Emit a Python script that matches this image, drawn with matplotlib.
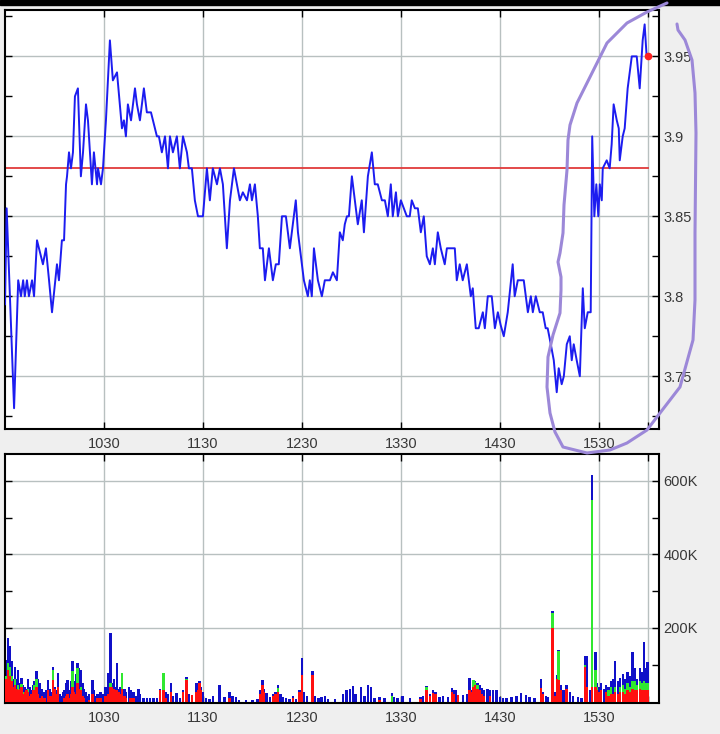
import matplotlib
matplotlib.use("Agg")
import matplotlib.pyplot as plt
from matplotlib.patches import Rectangle
from matplotlib.lines import Line2D
from matplotlib.ticker import FixedLocator, FuncFormatter

plt.rcParams['font.family'] = ['Liberation Sans', 'DejaVu Sans']

# price, minutes after 09:30
price_min = [0, 1, 5.5, 8, 9.7, 11, 12, 13.3, 14.5, 16.4,
             17.6, 19.4, 23, 24.8, 26.7, 28.5, 31.5, 32.7, 34.5, 35.8,
             37, 37.6, 38.8, 40, 41.2, 42.4, 44.2, 46, 47.3, 49.1,
             50.3, 52.7, 53.9, 55.8, 56.4, 58.2, 59.4, 61.2, 63.6, 65.4,
             67.9, 70.9, 72.1, 73.3, 74.5, 76.4, 78.8, 80, 81.8, 84.2,
             86, 88.5, 89.7, 92.1, 93.3, 95.1, 97, 98.8, 100, 101.8,
             104.2, 106, 107.9, 110.3, 111.5, 113.3, 115.1, 117, 120, 122.4,
             124.2, 126, 128.5, 130.3, 132.1, 134.5, 136.4, 138.8, 140.6, 142.4,
             144.2, 146.7, 148.5, 149.7, 151.5, 153.3, 154.5, 156.3, 157.6, 160,
             162.4, 164.2, 166, 167.9, 170.3, 172.7, 176.3, 177.6, 180, 181.2,
             183.6, 184.8, 186, 187.3, 189.7, 192.1, 193.9, 197, 198.8, 201.2,
             203, 204.8, 206, 207.3, 208.5, 210.3, 212.1, 213.9, 216.3, 217.6,
             220, 222.4, 224.2, 226, 228.5, 230.3, 232.1, 233.9, 235.1, 237,
             238.2, 240, 241.8, 243.6, 245.4, 246.6, 248.5, 250.3, 252.1, 253.9,
             255.7, 257.6, 259.4, 260.6, 262.4, 264.2, 266.6, 267.9, 272.7, 273.9,
             275.7, 277.5, 280, 282.4, 283.6, 285.4, 287.2, 289.7, 290.9, 292.7,
             295.1, 297, 298.8, 300.5, 302.4, 304.8, 307.8, 309, 310.9, 312.7,
             314.5, 317, 318.8, 320, 321.8, 324.2, 326, 327.8, 329, 330.9,
             332.7, 334.5, 335.7, 337.5, 338.8, 340.6, 342.4, 343.6, 344.8, 346.6,
             348.5, 350.3, 351.5, 353.3, 355.1, 356, 357.3, 358.5, 359.7, 360.6,
             361.8, 362.4, 364.8, 366.6, 367.8, 369, 370.9, 372.1, 372.7, 374.5,
             375.7, 377.5, 380, 383, 384.8, 386.6, 387.8, 389]
price = [3.795, 3.855, 3.73, 3.81, 3.80, 3.81, 3.80, 3.81, 3.80, 3.81,
         3.80, 3.835, 3.82, 3.83, 3.81, 3.79, 3.82, 3.81, 3.835, 3.835,
         3.87, 3.875, 3.89, 3.88, 3.89, 3.925, 3.93, 3.875, 3.89, 3.92,
         3.91, 3.87, 3.89, 3.87, 3.88, 3.87, 3.88, 3.91, 3.96, 3.935,
         3.94, 3.905, 3.91, 3.90, 3.92, 3.91, 3.93, 3.92, 3.91, 3.93,
         3.915, 3.915, 3.91, 3.90, 3.90, 3.89, 3.90, 3.88, 3.90, 3.89,
         3.90, 3.88, 3.90, 3.89, 3.88, 3.88, 3.86, 3.85, 3.85, 3.88,
         3.86, 3.88, 3.87, 3.88, 3.87, 3.83, 3.86, 3.88, 3.87, 3.86,
         3.865, 3.86, 3.87, 3.86, 3.87, 3.85, 3.83, 3.83, 3.81, 3.83,
         3.81, 3.82, 3.82, 3.85, 3.85, 3.83, 3.86, 3.84, 3.82, 3.81,
         3.80, 3.81, 3.80, 3.83, 3.81, 3.80, 3.81, 3.81, 3.815, 3.81,
         3.84, 3.835, 3.845, 3.85, 3.85, 3.875, 3.86, 3.845, 3.86, 3.84,
         3.875, 3.89, 3.87, 3.87, 3.86, 3.86, 3.85, 3.87, 3.85, 3.865,
         3.85, 3.86, 3.855, 3.85, 3.85, 3.86, 3.855, 3.855, 3.84, 3.85,
         3.825, 3.82, 3.83, 3.82, 3.84, 3.83, 3.82, 3.83, 3.83, 3.81,
         3.82, 3.81, 3.82, 3.80, 3.805, 3.78, 3.78, 3.79, 3.78, 3.80,
         3.80, 3.78, 3.79, 3.782, 3.775, 3.79, 3.82, 3.80, 3.81, 3.81,
         3.81, 3.79, 3.80, 3.79, 3.80, 3.79, 3.79, 3.78, 3.78, 3.77,
         3.76, 3.74, 3.755, 3.745, 3.75, 3.77, 3.775, 3.76, 3.77, 3.76,
         3.75, 3.805, 3.78, 3.79, 3.79, 3.90, 3.85, 3.87, 3.85, 3.87,
         3.86, 3.88, 3.885, 3.88, 3.895, 3.92, 3.91, 3.905, 3.885, 3.90,
         3.905, 3.93, 3.95, 3.95, 3.93, 3.96, 3.97, 3.95]
last_min, last_price = 390, 3.95
ref_price = 3.88

# volume (thousands): total, up to green, red part
vol_min = [1, 2, 3, 4, 5, 6, 7, 8, 9, 10,
           11, 12, 13, 14, 15, 16, 17, 18, 19, 20,
           21, 22.5, 24, 25, 26, 27, 28, 29, 30, 31,
           32, 33, 34, 35, 36, 37, 38, 39, 40, 41,
           42, 43, 44, 45, 46, 47, 48, 49, 50, 51,
           53, 54, 55, 56, 57, 58, 59, 60, 61, 62.5,
           64, 65, 66, 67, 68, 69, 70, 71, 72.5, 73.5,
           75, 76, 77, 78, 79.5, 81, 82, 84, 86, 88,
           90, 92, 94, 96, 97.5, 99, 100.5, 102, 104, 106,
           108, 110, 111.5, 113.5, 116, 117, 118, 119, 120, 122,
           124, 126, 130, 133, 136, 138, 140, 142, 146, 150,
           153, 154.5, 156, 157, 158.5, 160.5, 162.5, 164, 165.5, 167,
           168.5, 170.5, 172.5, 174.5, 176.5, 178.5, 180, 181, 183, 186.5,
           188, 190, 192, 194, 196, 200, 205, 207, 209, 211,
           212.5, 216, 218, 220, 222, 224, 227, 230, 234.5, 236,
           238, 241, 245.5, 252, 253.5, 255.5, 257.5, 259.5, 261, 263.5,
           265.5, 268.5, 271, 272, 273.5, 274.5, 277.5, 280, 281.5, 283,
           284, 285, 286.5, 288, 289, 290.5, 292.5, 294, 296, 298,
           300, 302, 304, 307, 310, 313, 316, 318, 321, 325,
           326, 328, 329, 332, 333.5, 334.5, 335.5, 337, 338.5, 340.5,
           342.5, 344.5, 347.5, 349.5, 351.5, 353, 355, 356, 358, 359,
           360.5, 361.5, 363, 364.5, 366, 367.5, 369, 370, 371.5, 373,
           374.5, 376, 377.5, 379, 380.5, 382, 383, 385, 386, 387.5,
           388.5, 389.5]
vol_total = [113, 172, 150, 110, 60, 95, 60, 85, 50, 63,
             45, 40, 35, 60, 40, 30, 45, 55, 82, 60,
             50, 35, 25, 30, 59, 35, 25, 95, 40, 30,
             77, 20, 15, 25, 30, 50, 59, 30, 55, 109,
             55, 75, 106, 90, 86, 50, 35, 25, 15, 20,
             59, 30, 15, 20, 15, 25, 20, 15, 40, 77,
             186, 50, 60, 40, 104, 35, 40, 77, 35, 25,
             40, 30, 20, 25, 15, 35, 20, 10, 10, 10,
             10, 10, 35, 77, 25, 20, 50, 15, 22, 10,
             30, 68, 20, 18, 50, 35, 55, 40, 25, 10,
             8, 15, 45, 12, 27, 15, 12, 5, 5, 5,
             8, 30, 59, 35, 22, 12, 20, 25, 45, 20,
             12, 10, 8, 15, 8, 30, 118, 25, 15, 82,
             15, 10, 12, 15, 8, 8, 20, 30, 35, 43,
             20, 39, 15, 45, 40, 10, 12, 10, 22, 12,
             10, 15, 10, 12, 15, 43, 20, 32, 27, 12,
             14, 12, 36, 30, 32, 18, 18, 20, 63, 30,
             58, 55, 50, 45, 38, 30, 35, 30, 30, 32,
             12, 10, 10, 12, 15, 22, 18, 12, 10, 61,
             25, 15, 12, 245, 25, 72, 140, 45, 30, 45,
             25, 15, 12, 10, 124, 125, 30, 616, 135, 50,
             40, 50, 35, 45, 40, 55, 60, 109, 55, 65,
             75, 60, 80, 70, 136, 90, 60, 90, 80, 162,
             90, 108]
vol_green = [70, 104, 95, 70, 0, 60, 0, 45, 0, 48,
             25, 0, 0, 35, 0, 0, 0, 45, 60, 0,
             0, 0, 0, 0, 0, 0, 0, 86, 0, 0,
             0, 0, 0, 0, 0, 0, 0, 0, 0, 82,
             0, 0, 90, 0, 40, 0, 0, 0, 0, 0,
             0, 0, 0, 0, 0, 0, 0, 0, 0, 0,
             50, 0, 0, 0, 0, 0, 0, 77, 0, 0,
             0, 0, 0, 0, 0, 0, 0, 0, 0, 0,
             0, 0, 0, 77, 0, 0, 0, 0, 0, 0,
             0, 60, 0, 0, 0, 0, 0, 0, 0, 0,
             0, 0, 0, 0, 0, 0, 0, 0, 0, 0,
             0, 0, 0, 0, 0, 0, 0, 0, 37, 0,
             0, 0, 0, 0, 0, 0, 0, 0, 0, 0,
             0, 0, 0, 0, 0, 0, 0, 0, 0, 0,
             0, 0, 0, 0, 0, 0, 0, 0, 15, 0,
             0, 0, 0, 0, 0, 40, 0, 0, 0, 0,
             0, 0, 0, 0, 0, 0, 0, 0, 0, 0,
             58, 52, 45, 0, 0, 0, 0, 0, 0, 0,
             0, 0, 0, 0, 0, 0, 0, 0, 0, 0,
             0, 0, 0, 241, 0, 0, 137, 0, 0, 0,
             0, 0, 0, 0, 100, 0, 0, 548, 86, 40,
             0, 0, 0, 0, 30, 40, 0, 40, 0, 40,
             45, 35, 50, 40, 55, 55, 45, 55, 50, 55,
             50, 50]
vol_red = [60, 86, 70, 55, 40, 45, 35, 30, 35, 40,
           20, 25, 30, 25, 15, 20, 30, 30, 40, 20,
           10, 15, 10, 0, 30, 15, 15, 59, 35, 20,
           40, 0, 0, 0, 10, 15, 20, 10, 20, 40,
           25, 20, 50, 35, 30, 15, 10, 0, 0, 5,
           20, 0, 0, 10, 0, 10, 0, 0, 15, 20,
           40, 40, 35, 30, 30, 25, 20, 35, 15, 10,
           0, 10, 0, 10, 0, 0, 0, 0, 0, 0,
           0, 0, 30, 30, 10, 0, 25, 0, 0, 0,
           25, 59, 0, 18, 25, 30, 50, 30, 0, 0,
           0, 0, 0, 0, 10, 0, 0, 0, 0, 0,
           0, 20, 45, 25, 0, 0, 15, 20, 27, 0,
           0, 0, 0, 10, 0, 25, 73, 0, 0, 73,
           0, 0, 0, 0, 0, 0, 0, 0, 0, 0,
           0, 0, 0, 0, 0, 0, 5, 0, 0, 0,
           0, 0, 0, 8, 0, 32, 15, 22, 20, 0,
           0, 0, 27, 20, 0, 18, 0, 0, 32, 25,
           40, 45, 35, 30, 20, 15, 0, 15, 0, 0,
           0, 0, 0, 0, 0, 0, 0, 0, 0, 36,
           20, 0, 0, 200, 15, 60, 59, 30, 0, 35,
           0, 0, 0, 0, 94, 40, 0, 40, 40, 30,
           25, 30, 0, 25, 15, 20, 20, 25, 20, 25,
           25, 20, 30, 25, 35, 30, 30, 35, 30, 30,
           30, 30]

hour_ticks = [60, 120, 180, 240, 300, 360, 390]
hour_labels = ['1030', '1130', '1230', '1330', '1430', '1530', '']

# hand drawn highlight (image pixels)
mark_x = [667, 647, 627, 607, 590, 577, 570, 568, 567, 564, 563, 560, 558, 561, 561,
          560, 553, 548, 547, 550, 555, 563, 587, 610, 627, 647, 660, 680, 693, 695,
          695, 696, 695, 692, 685, 678, 677]
mark_y = [3, 12, 23, 43, 77, 103, 125, 140, 170, 205, 233, 253, 262, 277, 290,
          313, 335, 357, 387, 413, 432, 447, 453, 450, 443, 430, 413, 387, 340, 300,
          233, 133, 93, 60, 40, 30, 24]

W, H = 720, 734
grid_c = '#b8c0c0'
txt_c = '#383838'

fig = plt.figure(figsize=(W / 100, H / 100), dpi=100, facecolor='#efefef')
ax1 = fig.add_axes([5 / W, 1 - 429 / H, 654 / W, 419 / H])
ax2 = fig.add_axes([5 / W, 1 - 703 / H, 654 / W, 249 / H])

# price panel
ax1.plot(price_min, price, color='#1c1cf0', lw=1.4, zorder=3)
ax1.axhline(ref_price, xmax=390 / 396.5, color='#e03a3a', lw=1.3, zorder=2)
ax1.plot([last_min], [last_price], 'o', color='#ff2020', ms=4.5, zorder=4)
ax1.set_ylim(3.717, 3.979)
ax1.yaxis.set_major_locator(FixedLocator([3.75, 3.8, 3.85, 3.9, 3.95]))
ax1.yaxis.set_minor_locator(FixedLocator([3.725, 3.775, 3.825, 3.875, 3.925, 3.975]))
ax1.yaxis.set_major_formatter(FuncFormatter(lambda v, p: f'{v:g}'))

# volume panel
bw = 1.45
ax2.bar(vol_min, vol_total, width=bw, color='#1010c8', lw=0, zorder=2)
ax2.bar(vol_min, vol_green, width=bw, color='#30e830', lw=0, zorder=3)
ax2.bar(vol_min, vol_red, width=bw, color='#ff1010', lw=0, zorder=4)
ax2.set_ylim(-4, 673)
ax2.yaxis.set_major_locator(FixedLocator([200, 400, 600]))
ax2.yaxis.set_minor_locator(FixedLocator([100, 300, 500]))
ax2.yaxis.set_major_formatter(FuncFormatter(lambda v, p: f'{int(v)}K'))

for ax in (ax1, ax2):
    ax.set_facecolor('white')
    ax.set_xlim(0, 396.5)
    ax.set_xticks(hour_ticks)
    ax.set_xticklabels(hour_labels)
    ax.grid(True, which='major', color=grid_c, lw=1, zorder=0)
    ax.set_axisbelow(True)
    ax.yaxis.tick_right()
    ax.tick_params(which='both', direction='in', top=True, bottom=True, left=True,
                   right=True, length=5, width=1, color='black',
                   labelsize=10.5, labelcolor=txt_c)
    ax.tick_params(axis='x', pad=6)
    ax.tick_params(axis='y', pad=3)
    for s in ax.spines.values():
        s.set_color('black')
        s.set_linewidth(1.5)

# top black strip of the screenshot
fig.add_artist(Rectangle((0, 1 - 5 / H), 1, 5 / H, transform=fig.transFigure,
                         color='black', zorder=10))

fig.add_artist(Line2D([x / W for x in mark_x], [1 - y / H for y in mark_y],
                      transform=fig.transFigure, color='#9c88d8', lw=2.2,
                      solid_capstyle='round', solid_joinstyle='round', zorder=20))

fig.savefig('out.png', dpi=100, facecolor=fig.get_facecolor())
